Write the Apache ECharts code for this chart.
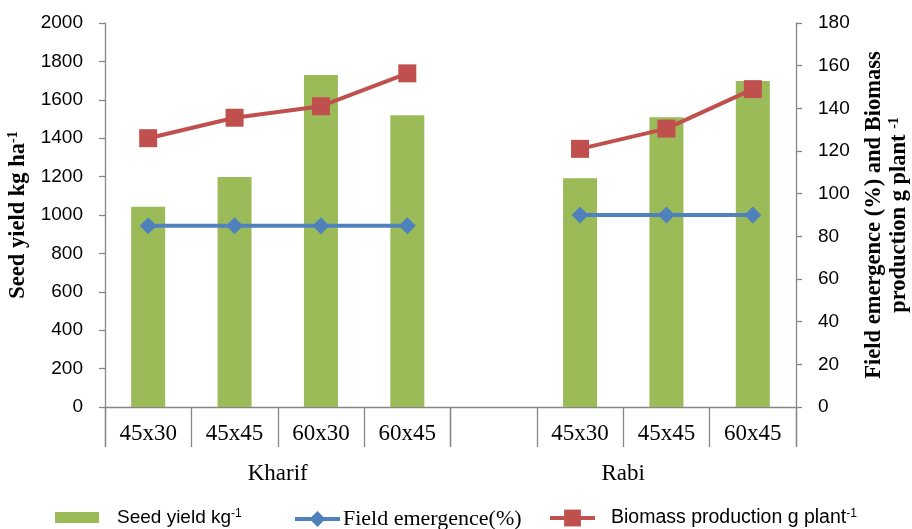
<!DOCTYPE html>
<html>
<head>
<meta charset="utf-8">
<script src="https://cdn.jsdelivr.net/npm/echarts@6/dist/echarts.min.js"></script>
<style>html,body{margin:0;padding:0;background:#fff;}#c{width:912px;height:529px;}</style>
</head>
<body>
<div id="c"></div>
<script>
const categories = ['45x30', '45x45', '60x30', '60x45', '', '45x30', '45x45', '60x45'];
const groups = ['Kharif', 'Rabi'];
const seedYield = [1043, 1198, 1729, 1519, null, 1191, 1509, 1698];
const fieldEmergence = [85, 85, 85, 85, null, 90, 90, 90];
const biomass = [126, 135.6, 141, 156.4, null, 121, 130.5, 149];
const leftTicks = { min: 0, max: 2000, interval: 200 };
const rightTicks = { min: 0, max: 180, interval: 20 };

const axisGray = '#868686';
const sans = 'Liberation Sans';
const serif = 'Liberation Serif';

const chart = echarts.init(document.getElementById('c'), null, { renderer: 'canvas' });
chart.setOption({
  animation: false,
  backgroundColor: '#fff',
  grid: { left: 105, right: 116, top: 23, bottom: 122, containLabel: false, outerBoundsMode: 'none' },
  xAxis: [
    {
      type: 'category', data: categories, position: 'bottom',
      axisLine: { lineStyle: { color: axisGray, width: 1.3 } },
      axisTick: { show: true, interval: 0, length: 40, lineStyle: { color: axisGray, width: 1.3 } },
      axisLabel: { interval: 0, margin: 15, fontFamily: serif, fontSize: 23, color: '#000' }
    },
    {
      type: 'category', data: groups, position: 'bottom', offset: 40,
      axisLine: { show: false },
      axisTick: { show: true, interval: 0, length: 40, lineStyle: { color: axisGray, width: 1.3 } },
      axisLabel: { interval: 0, margin: 15, fontFamily: serif, fontSize: 23, color: '#000' }
    }
  ],
  yAxis: [
    {
      type: 'value', position: 'left', min: leftTicks.min, max: leftTicks.max, interval: leftTicks.interval,
      splitLine: { show: false },
      axisLine: { show: true, lineStyle: { color: axisGray, width: 1.3 } },
      axisTick: { show: true, length: 6, lineStyle: { color: axisGray, width: 1.3 } },
      axisLabel: { margin: 22, fontFamily: sans, fontSize: 19, color: '#000', formatter: v => String(v) },
      name: '{t|Seed yield kg ha}{s|-1}',
      nameLocation: 'middle', nameRotate: 90, nameGap: 71,
      nameTextStyle: {
        rich: {
          t: { fontFamily: serif, fontWeight: 'bold', fontSize: 22.5, color: '#000' },
          s: { fontFamily: serif, fontWeight: 'bold', fontSize: 14, color: '#000', verticalAlign: 'top' }
        }
      }
    },
    {
      type: 'value', position: 'right', min: rightTicks.min, max: rightTicks.max, interval: rightTicks.interval,
      splitLine: { show: false },
      axisLine: { show: true, lineStyle: { color: axisGray, width: 1.3 } },
      axisTick: { show: true, length: 6, lineStyle: { color: axisGray, width: 1.3 } },
      axisLabel: { margin: 22, fontFamily: sans, fontSize: 19, color: '#000', formatter: v => String(v) },
      name: '{t|Field emergence (%) and Biomass}\n{t|production g plant }{s|-1}',
      nameLocation: 'middle', nameRotate: 90, nameGap: 66,
      nameTextStyle: {
        align: 'center',
        rich: {
          t: { fontFamily: serif, fontWeight: 'bold', fontSize: 22.5, color: '#000', lineHeight: 25, align: 'center' },
          s: { fontFamily: serif, fontWeight: 'bold', fontSize: 14, color: '#000', verticalAlign: 'top' }
        }
      }
    }
  ],
  legend: [
    {
      data: [{ name: 'Seed yield', icon: 'rect' }], left: 55, top: 508, padding: 0,
      itemWidth: 44, itemHeight: 11,
      formatter: () => '{a|Seed yield kg}{s|-1}',
      textStyle: {
        padding: [0, 0, 0, 13],
        rich: {
          a: { fontFamily: sans, fontSize: 19, color: '#000' },
          s: { fontFamily: sans, fontSize: 12, color: '#000', verticalAlign: 'top' }
        }
      }
    },
    {
      data: ['Field emergence'], left: 293, top: 508, padding: 0,
      itemWidth: 45, itemHeight: 20,
      lineStyle: { width: 4 },
      formatter: () => 'Field emergence(%)',
      textStyle: { fontFamily: serif, fontSize: 22, color: '#000', padding: [0, 0, 0, -2] }
    },
    {
      data: ['Biomass'], left: 548, top: 508, padding: 0,
      itemWidth: 45, itemHeight: 21,
      lineStyle: { width: 4 },
      formatter: () => '{a|Biomass production g plant}{s|-1}',
      textStyle: {
        padding: [0, 0, 0, 11],
        rich: {
          a: { fontFamily: sans, fontSize: 19.5, color: '#000' },
          s: { fontFamily: sans, fontSize: 12, color: '#000', verticalAlign: 'top' }
        }
      }
    }
  ],
  series: [
    {
      name: 'Seed yield', type: 'bar', xAxisIndex: 0, yAxisIndex: 0,
      data: seedYield, barWidth: 34,
      itemStyle: { color: '#9BBB59' }
    },
    {
      name: 'Field emergence', type: 'line', xAxisIndex: 0, yAxisIndex: 1,
      data: fieldEmergence, connectNulls: false,
      symbol: 'diamond', symbolSize: 17,
      lineStyle: { color: '#4F81BD', width: 4 },
      itemStyle: { color: '#4F81BD' }
    },
    {
      name: 'Biomass', type: 'line', xAxisIndex: 0, yAxisIndex: 1,
      data: biomass, connectNulls: false,
      symbol: 'rect', symbolSize: 18,
      lineStyle: { color: '#C0504D', width: 4 },
      itemStyle: { color: '#C0504D' }
    }
  ]
});
</script>
</body>
</html>
